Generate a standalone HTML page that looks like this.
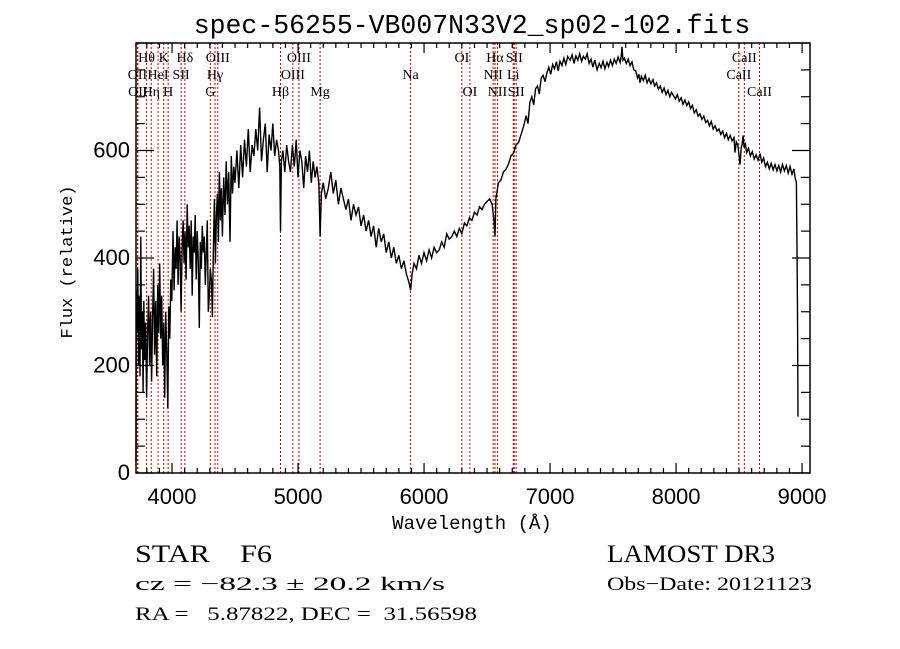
<!DOCTYPE html>
<html><head><meta charset="utf-8"><style>
html,body{margin:0;padding:0;background:#fff;}
svg{display:block;}
</style></head><body>
<svg id="chart" width="900" height="649" viewBox="0 0 900 649" xmlns="http://www.w3.org/2000/svg">
<rect x="0" y="0" width="900" height="649" fill="#fff"/>
<text x="472" y="33" text-anchor="middle" font-family="Liberation Mono, monospace" font-size="26.5">spec-56255-VB007N33V2_sp02-102.fits</text>
<g id="lines"></g>
<g id="labels"></g>
<path id="spec" fill="none" stroke="#000" stroke-width="1.4" stroke-linejoin="miter"/>
<g id="axes"></g>
<text x="472" y="529" text-anchor="middle" font-family="Liberation Mono, monospace" font-size="19">Wavelength (Å)</text>
<text transform="translate(72,262) rotate(-90)" text-anchor="middle" font-family="Liberation Mono, monospace" font-size="17">Flux (relative)</text>
<text x="135" y="562" font-family="Liberation Serif, serif" font-size="25" textLength="137" lengthAdjust="spacingAndGlyphs" xml:space="preserve">STAR    F6</text>
<text x="607" y="562" font-family="Liberation Serif, serif" font-size="25" textLength="168" lengthAdjust="spacingAndGlyphs">LAMOST DR3</text>
<text x="135" y="590" font-family="Liberation Serif, serif" font-size="19" textLength="310" lengthAdjust="spacingAndGlyphs">cz = −82.3 ± 20.2 km/s</text>
<text x="607" y="590" font-family="Liberation Serif, serif" font-size="19" textLength="205" lengthAdjust="spacingAndGlyphs">Obs−Date: 20121123</text>
<text x="135" y="620" font-family="Liberation Serif, serif" font-size="19" textLength="342" lengthAdjust="spacingAndGlyphs" xml:space="preserve">RA =   5.87822, DEC =  31.56598</text>
</svg>
<script>
const wave = [3714,3716,3722,3728,3734,3740,3746,3752,3758,3764,3770,3776,3782,3790,3798,3806,3814,3822,3830,3838,3846,3854,3862,3870,3878,3886,3894,3902,3910,3918,3926,3934,3942,3950,3958,3966,3974,3982,3990,3998,
4008,4016,4024,4032,4040,4048,4056,4064,4072,4080,4088,4096,4104,4112,4120,4128,4136,4144,4152,4160,4168,4176,4184,4192,4200,4208,4216,4224,4232,4240,4248,4256,4264,4272,4280,4288,4296,4304,4312,4320,4328,4336,4344,4352,4360,4368,4376,4384,4392,4400,4410,4420,4430,4440,4450,4460,4470,4480,4490,4500,4515,4530,4545,4560,4575,4590,4605,4620,4635,4650,4665,4680,4695,4710,4725,4740,4755,4770,4785,4800,4815,4830,4845,4855,4861,4868,4880,4895,4910,4925,4940,4955,4970,4985,5000,5015,5030,5045,5060,5075,5090,5105,5120,5135,5150,5165,5175,5185,5200,5220,5240,5260,5280,5300,5320,5340,5360,5380,5400,5420,5440,5460,5480,5500,5520,5540,5560,5580,5600,5620,5640,5660,5680,5700,5720,5740,5760,5780,5800,5820,5840,5860,5880,5893,5905,5920,5940,5960,5980,6000,6020,6040,6060,6080,6100,6120,6140,6160,6180,6200,6220,6240,6260,6280,6300,6320,6340,6360,6380,6400,6420,6440,6460,6480,6500,6520,6540,6555,6563,6570,6590,6610,6630,6650,6670,6690,6710,6730,6750,6770,
6790,6810,6825,6840,6855,6870,6885,6900,6915,6930,6945,6960,6976,6990,7005,7020,7035,7050,7065,7079,7095,7110,7125,7140,7159,7175,7190,7205,7220,7235,7250,7265,7280,7294,7310,7325,7340,7355,7373,7390,7405,7420,7435,7452,7465,7480,7495,7510,7525,7540,7556,7565,7571,7578,7590,7605,7620,7635,7650,7665,7680,7695,7705,7714,7725,7740,7755,7770,7785,7800,7817,7830,7845,7860,7875,7890,7905,7920,7935,7950,7965,7980,7995,8010,8025,8040,8055,8070,8085,8100,8115,8130,8145,8160,8175,8190,8205,8220,8235,8250,8265,8280,8295,8310,8325,8340,8355,8370,8385,8400,8415,8430,8445,8460,8468,8478,8490,8500,8508,8516,8525,8532,8540,8550,8560,8575,8590,8605,8620,8635,8650,8667,8680,8695,8710,8725,8740,8755,8770,8785,8800,8815,8830,8845,8860,8875,8890,8905,8920,8935,8944,8955,8960,8964,8968];
const flux = [20,340,260,380,200,330,180,440,230,300,150,320,210,280,140,260,330,200,300,170,290,380,220,320,180,350,260,390,250,330,200,280,140,300,230,120,310,250,360,320,
450,340,420,380,470,350,440,400,300,420,470,390,450,360,500,420,460,380,470,330,440,410,480,360,450,400,270,430,380,460,410,440,350,410,470,300,330,380,360,290,420,510,390,480,520,430,560,470,530,440,550,480,580,500,560,430,590,520,570,540,600,530,610,550,620,570,640,560,610,590,640,600,680,580,620,650,560,630,600,650,590,620,600,570,450,580,600,560,610,580,560,610,570,620,550,600,580,530,590,560,600,540,580,550,570,540,440,520,540,510,530,560,520,545,500,530,510,490,510,470,500,480,495,460,480,450,470,440,460,420,455,430,445,410,430,400,420,390,405,380,395,370,355,340,370,390,380,405,390,410,395,415,400,420,410,415,430,420,445,435,440,450,440,455,445,465,460,475,470,485,480,495,490,500,505,510,500,470,440,510,540,545,560,565,575,590,595,610,615,630,
645,665,650,690,700,685,715,720,705,735,740,728,745,755,742,760,752,765,748,766,758,772,760,775,768,778,762,776,768,780,766,775,770,780,762,770,755,768,750,762,754,766,752,764,756,768,758,770,762,774,764,775,793,768,772,762,770,758,765,750,748,735,742,726,738,730,740,726,734,724,732,720,726,714,720,708,716,704,712,700,708,702,696,704,692,698,686,694,684,690,678,684,670,676,664,668,658,664,652,656,646,654,640,646,636,640,630,636,624,632,620,628,618,624,596,616,610,590,574,604,612,628,606,612,596,604,590,598,584,592,582,594,578,586,570,578,566,576,564,574,562,572,560,574,562,572,558,570,556,566,550,540,420,300,105];
const lineWave = [3726,3729,3798,3835,3889,3934,3969,4072,4102,4304,4341,4363,4861,4959,5007,5175,5893,6300,6364,6548,6563,6583,6708,6716,6731,8498,8542,8662];
const lineName = ["OII","OII","Hθ","Hη","HeI","K","H","SII","Hδ","G","Hγ","OIII","Hβ","OIII","OIII","Mg","Na","OI","OI","NII","Hα","NII","Li","SII","SII","CaII","CaII","CaII"];
const lineRow = [2,3,1,3,2,1,3,2,1,3,2,1,3,2,1,3,2,1,3,2,1,3,2,1,3,2,1,3];
const xTicks = [4000,5000,6000,7000,8000,9000];
const yTicks = [0,200,400,600];

const L=136,R=810,T=43,B=473;
const X0=3714,X1=9063,Y0=0,Y1=800;
const sx=w=>L+(w-X0)/(X1-X0)*(R-L);
const sy=f=>B-(f-Y0)/(Y1-Y0)*(B-T);
const NS="http://www.w3.org/2000/svg";
function mk(tag,attrs,parent){const e=document.createElementNS(NS,tag);for(const k in attrs)e.setAttribute(k,attrs[k]);parent.appendChild(e);return e;}

const gl=document.getElementById('lines'), glab=document.getElementById('labels');
const rowY={1:62,2:79,3:96};
lineWave.forEach((w,i)=>{
  const x=sx(w);
  const ln=mk('line',{x1:x,x2:x,y1:T,y2:B,stroke:'#c00000','stroke-width':1,'stroke-dasharray':'2,2'},gl);
  
  
  const t=mk('text',{x:x,y:rowY[lineRow[i]],'text-anchor':'middle','font-family':'Liberation Serif, serif','font-size':14},glab);
  t.textContent=lineName[i];
  
  
});

let d='';
wave.forEach((w,i)=>{d+=(i?'L':'M')+sx(w).toFixed(1)+','+sy(flux[i]).toFixed(1);});
document.getElementById('spec').setAttribute('d',d);

const ga=document.getElementById('axes');
const fr=mk('rect',{x:L,y:T,width:R-L,height:B-T,fill:'none',stroke:'#000','stroke-width':1.5},ga);


for(let w=3800;w<=9000;w+=100){
  const x=sx(w), major=(w%1000===0), len=major?10:5;
  mk('line',{x1:x,x2:x,y1:B,y2:B-len,stroke:'#000','stroke-width':1.2},ga);
  mk('line',{x1:x,x2:x,y1:T,y2:T+len,stroke:'#000','stroke-width':1.2},ga);
}
xTicks.forEach(w=>{
  const t=mk('text',{x:sx(w),y:504,'text-anchor':'middle','font-family':'Liberation Sans, sans-serif','font-size':22},ga);
  t.textContent=w;
  
  
});
for(let f=0;f<=800;f+=50){
  const y=sy(f), major=(f%200===0), len=major?18:9;
  mk('line',{x1:L,x2:L+len,y1:y,y2:y,stroke:'#000','stroke-width':1.2},ga);
  mk('line',{x1:R,x2:R-len,y1:y,y2:y,stroke:'#000','stroke-width':1.2},ga);
}
yTicks.forEach(f=>{
  const t=mk('text',{x:130,y:sy(f)+7,'text-anchor':'end','font-family':'Liberation Sans, sans-serif','font-size':22},ga);
  t.textContent=f;
  
  
});
</script>
</body></html>
